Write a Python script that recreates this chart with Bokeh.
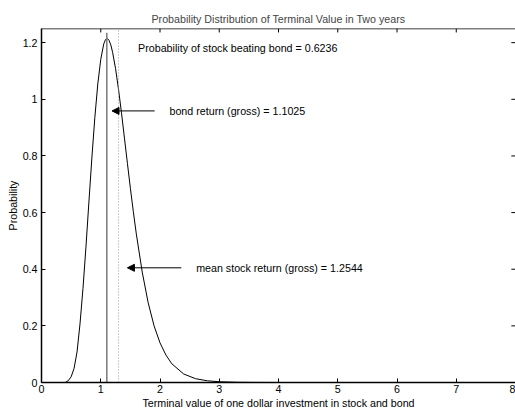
from bokeh.plotting import figure
from bokeh.models import Range1d, FixedTicker, Arrow, NormalHead, Label, Span
from bokeh.embed import file_html
from bokeh.resources import INLINE

# ---- data ----
terminal_value = [0.00, 0.40, 0.45, 0.50, 0.55, 0.60, 0.65, 0.70, 0.75, 0.80,
                  0.85, 0.90, 0.95, 1.00, 1.05, 1.08, 1.11, 1.14, 1.17, 1.20,
                  1.25, 1.30, 1.35, 1.40, 1.45, 1.50, 1.55, 1.60, 1.70, 1.80,
                  1.90, 2.00, 2.10, 2.20, 2.40, 2.60, 2.80, 3.00, 3.30, 3.60,
                  4.00, 5.00, 6.00, 7.00, 8.00]
probability = [0.0, 0.0, 0.006, 0.020, 0.050, 0.108, 0.207, 0.332, 0.478, 0.637,
               0.793, 0.935, 1.054, 1.141, 1.195, 1.211, 1.215, 1.208, 1.192, 1.166,
               1.108, 1.035, 0.952, 0.863, 0.774, 0.686, 0.603, 0.525, 0.390, 0.282,
               0.200, 0.140, 0.097, 0.066, 0.030, 0.0135, 0.006, 0.0027, 0.0008, 0.0002,
               0.0, 0.0, 0.0, 0.0, 0.0]

bond_line_x = [1.1025]
bond_line_top = [1.235]
mean_line_x = [1.30]
mean_line_top = [1.25]

x_ticks = [0, 1, 2, 3, 4, 5, 6, 7, 8]
y_ticks = [0, 0.2, 0.4, 0.6, 0.8, 1.0, 1.2]
y_tick_labels = ["0", "0.2", "0.4", "0.6", "0.8", "1", "1.2"]
x_min, x_max = 0, 8
y_min, y_max = 0, 1.25

title_text = "Probability Distribution of Terminal Value in Two years"
x_label = "Terminal value of one dollar investment in stock and bond"
y_label = "Probability"

prob_text = "Probability of stock beating bond = 0.6236"
prob_text_pos = (1.63, 1.18)
bond_text = "bond return (gross) = 1.1025"
bond_text_pos = (2.16, 0.959)
bond_arrow = (1.91, 0.959, 1.19, 0.959)
mean_text = "mean stock return (gross) = 1.2544"
mean_text_pos = (2.61, 0.405)
mean_arrow = (2.36, 0.405, 1.45, 0.405)

FONT = "Liberation Sans"
FS = "10.7px"

p = figure(width=515, height=411, x_range=Range1d(x_min, x_max), y_range=Range1d(y_min, y_max),
           output_backend="svg", toolbar_location=None,
           min_border_left=41, min_border_right=0, min_border_top=28, min_border_bottom=26)
p.grid.visible = False
p.outline_line_color = None
p.background_fill_color = "white"
p.border_fill_color = "white"

p.title.text = title_text
p.title.align = "center"
p.title.text_font = FONT
p.title.text_font_size = FS
p.title.text_font_style = "normal"
p.title.standoff = 8


def style_axis(ax, ticks):
    ax.ticker = FixedTicker(ticks=ticks)
    ax.major_tick_in = 4
    ax.major_tick_out = 0
    ax.minor_tick_line_color = None
    ax.axis_line_color = "black"
    ax.axis_line_width = 1.5
    ax.major_tick_line_color = "black"
    ax.major_tick_line_width = 1
    ax.major_label_text_font = FONT
    ax.major_label_text_font_size = FS
    ax.major_label_text_color = "black"
    ax.axis_label_text_font = FONT
    ax.axis_label_text_font_size = FS
    ax.axis_label_text_font_style = "normal"
    ax.axis_label_text_color = "black"


xa = p.xaxis[0]
style_axis(xa, x_ticks)
xa.axis_label = x_label
xa.major_label_standoff = 2
xa.axis_label_standoff = 1

ya = p.yaxis[0]
style_axis(ya, y_ticks)
ya.major_label_overrides = {t: l for t, l in zip(y_ticks, y_tick_labels)}
ya.axis_label = y_label
ya.major_label_standoff = 4
ya.axis_label_standoff = 1

# top edge of the box and inward ticks on top and right sides
p.add_layout(Span(location=y_max, dimension="width", line_color="black", line_width=1.5))
top_tick_len = 0.014
right_tick_len = 0.07
p.segment(x0=x_ticks, y0=[y_max] * len(x_ticks), x1=x_ticks, y1=[y_max - top_tick_len] * len(x_ticks),
          line_color="black", line_width=1)
p.segment(x0=[x_max] * len(y_ticks), y0=y_ticks, x1=[x_max - right_tick_len] * len(y_ticks), y1=y_ticks,
          line_color="black", line_width=1)

# distribution curve
p.line(terminal_value, probability, line_color="black", line_width=1)

# bond return line (solid gray) and mean line (dotted)
p.segment(x0=bond_line_x, y0=[0] * len(bond_line_x), x1=bond_line_x, y1=bond_line_top,
          line_color="#7a7a7a", line_width=1.5)
p.segment(x0=mean_line_x, y0=[0] * len(mean_line_x), x1=mean_line_x, y1=mean_line_top,
          line_color="#a0a0a0", line_width=1, line_dash="1 2")

for (xs, ys, xe, ye) in (bond_arrow, mean_arrow):
    p.add_layout(Arrow(end=NormalHead(size=7, fill_color="black", line_color="black", line_width=1),
                       x_start=xs, y_start=ys, x_end=xe, y_end=ye,
                       line_color="black", line_width=1))

for txt, (tx, ty) in ((prob_text, prob_text_pos), (bond_text, bond_text_pos), (mean_text, mean_text_pos)):
    p.add_layout(Label(x=tx, y=ty, text=txt, text_font=FONT, text_font_size=FS,
                       text_color="black", text_baseline="middle", text_align="left"))

open("out.html", "w").write(file_html(p, INLINE))
